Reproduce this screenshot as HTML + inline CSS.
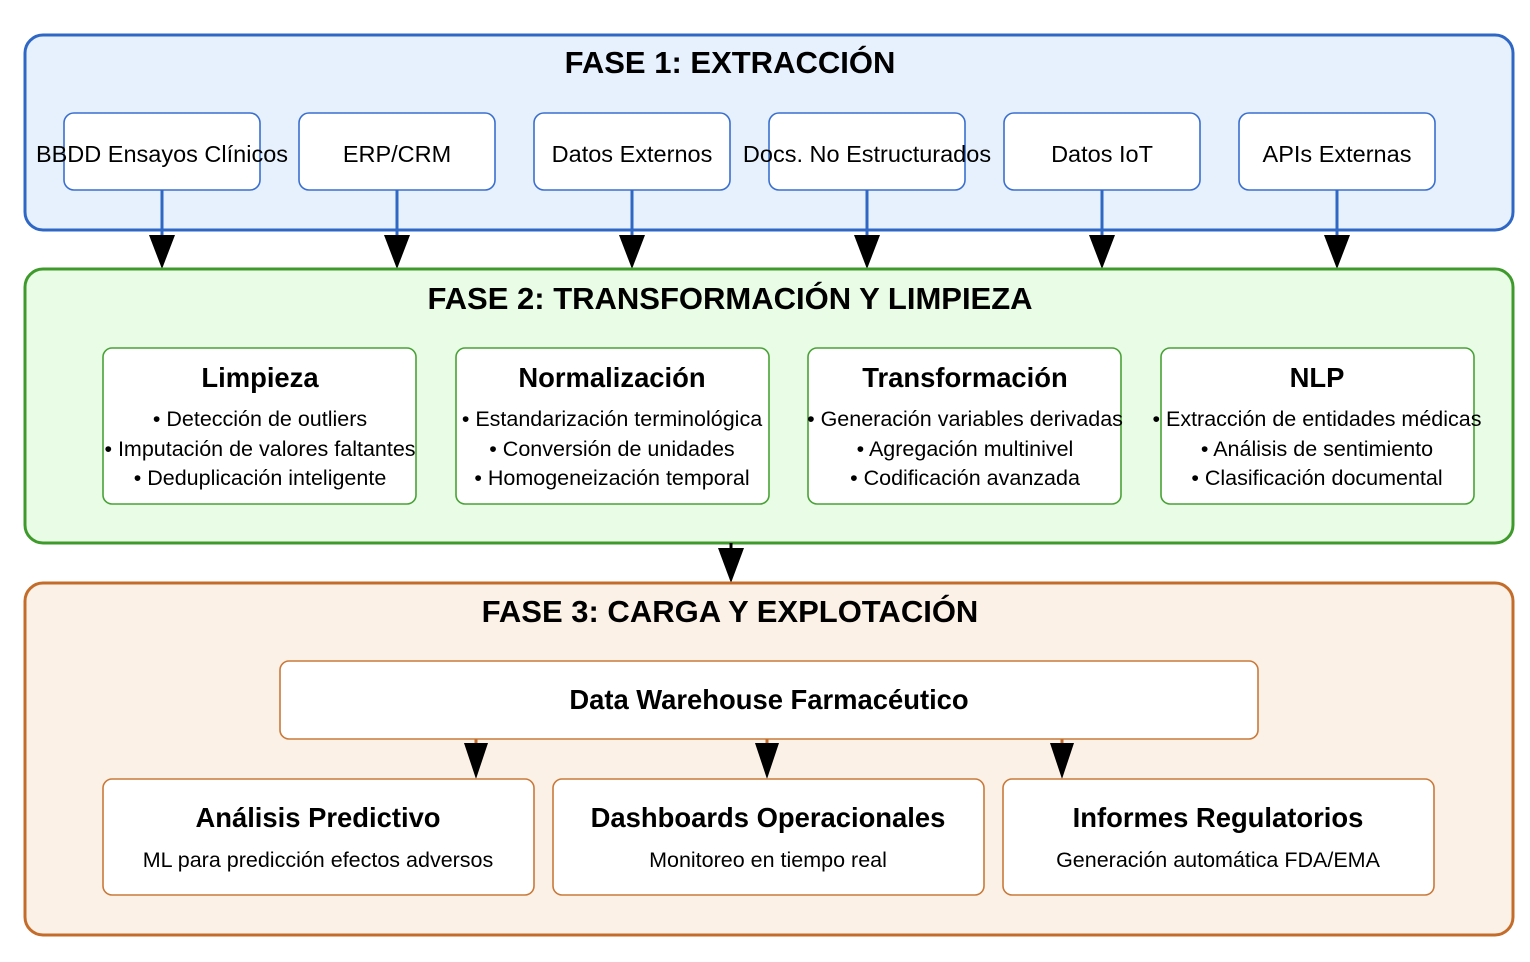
<!DOCTYPE html>
<html><head><meta charset="utf-8"><style>body{margin:0;background:#fff}svg{display:block}text{font-family:"Liberation Sans",Arial,sans-serif;fill:#000}</style></head><body>
<svg width="1530" height="962" viewBox="0 0 1530 962" xmlns="http://www.w3.org/2000/svg">
<rect x="25" y="35" width="1488" height="195" rx="18" fill="#e7f1fd" stroke="#2f67c5" stroke-width="3"/>
<text x="730" y="73" font-size="31" font-weight="bold" text-anchor="middle">FASE 1: EXTRACCIÓN</text>
<g fill="#fff" stroke="#3a6fd0" stroke-width="1.6">
<rect x="64" y="113" width="196" height="77" rx="10"/><rect x="299" y="113" width="196" height="77" rx="10"/><rect x="534" y="113" width="196" height="77" rx="10"/><rect x="769" y="113" width="196" height="77" rx="10"/><rect x="1004" y="113" width="196" height="77" rx="10"/><rect x="1239" y="113" width="196" height="77" rx="10"/>
</g>
<g font-size="23.5" text-anchor="middle">
<text x="162" y="162">BBDD Ensayos Clínicos</text><text x="397" y="162">ERP/CRM</text><text x="632" y="162">Datos Externos</text><text x="867" y="162">Docs. No Estructurados</text><text x="1102" y="162">Datos IoT</text><text x="1337" y="162">APIs Externas</text>
</g>
<g stroke="#2f67c5" stroke-width="3">
<line x1="162" y1="190" x2="162" y2="238"/><line x1="397" y1="190" x2="397" y2="238"/><line x1="632" y1="190" x2="632" y2="238"/><line x1="867" y1="190" x2="867" y2="238"/><line x1="1102" y1="190" x2="1102" y2="238"/><line x1="1337" y1="190" x2="1337" y2="238"/>
</g>
<g fill="#000">
<polygon points="149,235 175,235 162,269"/><polygon points="384,235 410,235 397,269"/><polygon points="619,235 645,235 632,269"/><polygon points="854,235 880,235 867,269"/><polygon points="1089,235 1115,235 1102,269"/><polygon points="1324,235 1350,235 1337,269"/>
</g>
<rect x="25" y="269" width="1488" height="274" rx="18" fill="#e9fce6" stroke="#3f9a2c" stroke-width="3"/>
<text x="730" y="309" font-size="31" font-weight="bold" text-anchor="middle">FASE 2: TRANSFORMACIÓN Y LIMPIEZA</text>
<g fill="#fff" stroke="#4aa237" stroke-width="1.6">
<rect x="103" y="348" width="313" height="156" rx="9"/><rect x="456" y="348" width="313" height="156" rx="9"/><rect x="808" y="348" width="313" height="156" rx="9"/><rect x="1161" y="348" width="313" height="156" rx="9"/>
</g>
<g text-anchor="middle">
<g font-size="27.4" font-weight="bold">
<text x="260" y="387">Limpieza</text><text x="612" y="387">Normalización</text><text x="965" y="387">Transformación</text><text x="1317" y="387">NLP</text>
</g>
<g font-size="21.5">
<text x="260" y="426">• Detección de outliers</text><text x="260" y="456">• Imputación de valores faltantes</text><text x="260" y="485">• Deduplicación inteligente</text>
<text x="612" y="426">• Estandarización terminológica</text><text x="612" y="456">• Conversión de unidades</text><text x="612" y="485">• Homogeneización temporal</text>
<text x="965" y="426">• Generación variables derivadas</text><text x="965" y="456">• Agregación multinivel</text><text x="965" y="485">• Codificación avanzada</text>
<text x="1317" y="426">• Extracción de entidades médicas</text><text x="1317" y="456">• Análisis de sentimiento</text><text x="1317" y="485">• Clasificación documental</text>
</g></g>
<line x1="731" y1="543" x2="731" y2="550" stroke="#000" stroke-width="3"/>
<polygon points="718,548 744,548 731,583" fill="#000"/>
<rect x="25" y="583" width="1488" height="352" rx="18" fill="#fcf1e7" stroke="#c46c2a" stroke-width="3"/>
<text x="730" y="622" font-size="31" font-weight="bold" text-anchor="middle">FASE 3: CARGA Y EXPLOTACIÓN</text>
<rect x="280" y="661" width="978" height="78" rx="9" fill="#fff" stroke="#c97a3a" stroke-width="1.6"/>
<text x="769" y="709" font-size="27.4" font-weight="bold" text-anchor="middle">Data Warehouse Farmacéutico</text>
<g stroke="#c46c2a" stroke-width="3"><line x1="476" y1="739" x2="476" y2="745"/><line x1="767" y1="739" x2="767" y2="745"/><line x1="1062" y1="739" x2="1062" y2="745"/></g>
<g fill="#000"><polygon points="464,743 488,743 476,779"/><polygon points="755,743 779,743 767,779"/><polygon points="1050,743 1074,743 1062,779"/></g>
<g fill="#fff" stroke="#c97a3a" stroke-width="1.6">
<rect x="103" y="779" width="431" height="116" rx="9"/><rect x="553" y="779" width="431" height="116" rx="9"/><rect x="1003" y="779" width="431" height="116" rx="9"/>
</g>
<g text-anchor="middle">
<g font-size="27.4" font-weight="bold"><text x="318" y="827">Análisis Predictivo</text><text x="768" y="827">Dashboards Operacionales</text><text x="1218" y="827">Informes Regulatorios</text></g>
<g font-size="21.5"><text x="318" y="867">ML para predicción efectos adversos</text><text x="768" y="867">Monitoreo en tiempo real</text><text x="1218" y="867">Generación automática FDA/EMA</text></g>
</g>
</svg>
</body></html>
